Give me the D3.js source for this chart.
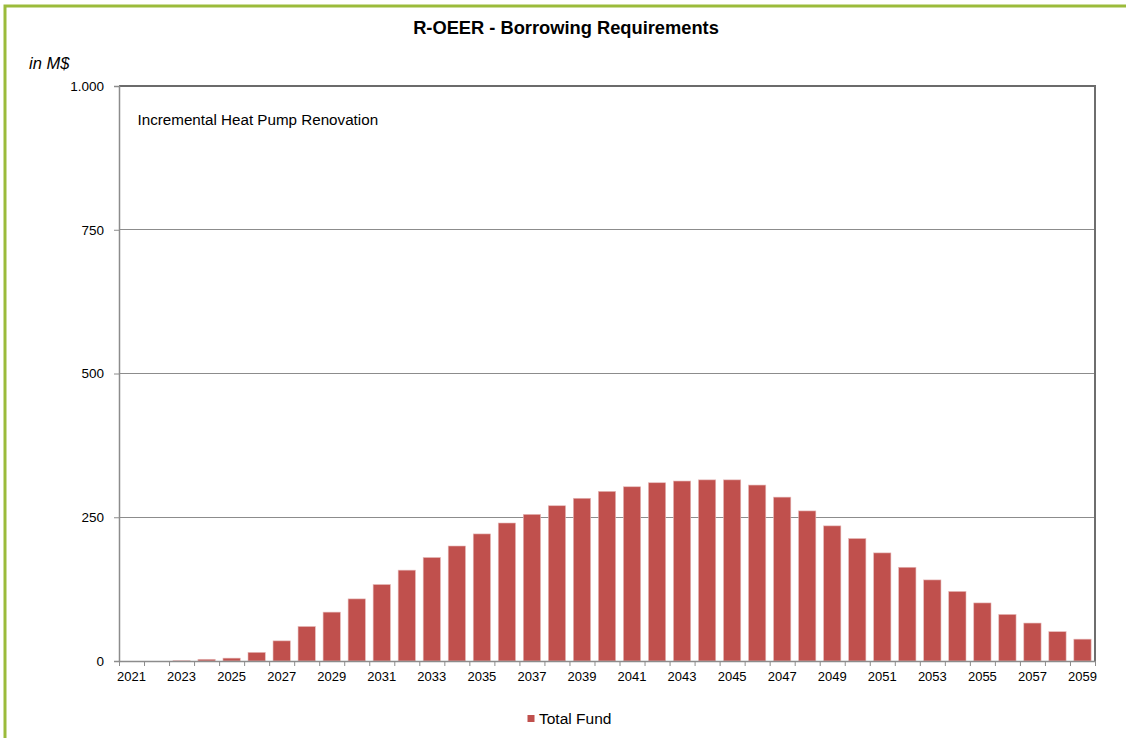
<!DOCTYPE html>
<html>
<head>
<meta charset="utf-8">
<script src="https://cdn.jsdelivr.net/npm/d3@7"></script>
<style>
  html, body { margin: 0; padding: 0; background: #fff; }
  svg { display: block; font-family: "Liberation Sans", Arial, sans-serif; }
</style>
</head>
<body>
<svg id="chart" width="1126" height="738"></svg>
<script>
const years = d3.range(2021, 2060).map(String);
const totalFund = [0, 0, 0.5, 3, 5, 15, 35, 60, 85, 108, 133, 158, 180, 200, 221, 240, 255, 270, 283, 295, 303, 310, 313, 315, 315, 306, 285, 261, 235, 213, 188, 163, 141, 121, 101, 81, 66, 51, 38];
const yTicks = [0, 250, 500, 750, 1000];
const titleText = "R-OEER - Borrowing Requirements";
const unitText = "in M$";
const noteText = "Incremental Heat Pump Renovation";
const seriesName = "Total Fund";

(function () {
const svg = d3.select("#chart");
const W = 1126, H = 738;
const pL = 119, pR = 1095, pT = 86, pB = 661;
const barColor = "#C0504D";

// green outer frame
svg.append("path")
  .attr("d", `M5,${H + 5} L5,6 L${W + 5},6`)
  .attr("fill", "none")
  .attr("stroke", "#9BBB3B")
  .attr("stroke-width", 3);

const x = d3.scaleBand().domain(years).range([pL, pR]).paddingInner(0.31).paddingOuter(0.155);
const xb = d3.scaleLinear().domain([0, years.length]).range([pL, pR]);
const y = d3.scaleLinear().domain([0, 1000]).range([pB, pT]);

const loc = d3.formatLocale({ decimal: ",", thousands: ".", grouping: [3], currency: ["", "$"] });
const fmt = loc.format(",");

// gridlines
svg.append("g").selectAll("line").data(yTicks.filter(d => d > 0 && d < 1000)).join("line")
  .attr("x1", pL).attr("x2", pR)
  .attr("y1", d => y(d)).attr("y2", d => y(d))
  .attr("stroke", "#8c8c8c").attr("stroke-width", 1).attr("shape-rendering", "crispEdges");

// plot frame top & right
svg.append("line").attr("x1", pL).attr("x2", pR + 1).attr("y1", pT).attr("y2", pT)
  .attr("stroke", "#3a3a3a").attr("stroke-width", 1.5);
svg.append("line").attr("x1", pR).attr("x2", pR).attr("y1", pT).attr("y2", pB)
  .attr("stroke", "#6e6e6e").attr("stroke-width", 2);

// bars
svg.append("g").selectAll("rect").data(years).join("rect")
  .attr("x", d => x(d))
  .attr("width", x.bandwidth())
  .attr("y", (d, i) => y(totalFund[i]))
  .attr("height", (d, i) => pB - y(totalFund[i]))
  .attr("fill", barColor)
  .attr("stroke", "#e6b9b8")
  .attr("stroke-width", 0.6);

// y axis
const yAxis = svg.append("g").attr("transform", `translate(${pL},0)`)
  .call(d3.axisLeft(y).tickValues(yTicks).tickFormat(fmt).tickSize(5).tickPadding(10));
yAxis.select(".domain").attr("stroke", "#8c8c8c").attr("stroke-width", 1.5);
yAxis.selectAll(".tick line").attr("stroke", "#8c8c8c");
yAxis.selectAll("text").attr("font-size", 13.5).attr("fill", "#000").attr("font-family", "Liberation Sans, Arial, sans-serif");

// x axis ticks at band boundaries
const xTickAxis = svg.append("g").attr("transform", `translate(0,${pB})`)
  .call(d3.axisBottom(xb).tickValues(d3.range(years.length + 1)).tickFormat("").tickSize(5).tickSizeOuter(0));
xTickAxis.select(".domain").attr("stroke", "#8c8c8c").attr("stroke-width", 1.5);
xTickAxis.selectAll(".tick line").attr("stroke", "#8c8c8c");

// x axis labels
const xLab = svg.append("g").attr("transform", `translate(0,${pB})`)
  .call(d3.axisBottom(x).tickValues(years.filter((d, i) => i % 2 === 0)).tickSize(0).tickPadding(11));
xLab.select(".domain").remove();
xLab.selectAll("text").attr("font-size", 13).attr("fill", "#000").attr("font-family", "Liberation Sans, Arial, sans-serif");

// title
svg.append("text").attr("x", 566).attr("y", 34).attr("text-anchor", "middle")
  .attr("font-size", 18.3).attr("font-weight", "bold").attr("fill", "#000").text(titleText);

// unit
svg.append("text").attr("x", 29).attr("y", 69)
  .attr("font-size", 16.5).attr("font-style", "italic").attr("fill", "#000").text(unitText);

// note
svg.append("text").attr("x", 137.5).attr("y", 124.5)
  .attr("font-size", 15.2).attr("fill", "#000").text(noteText);

// legend
const lg = svg.append("g");
lg.append("rect").attr("x", 527.5).attr("y", 715).attr("width", 7).attr("height", 7).attr("fill", barColor);
lg.append("text").attr("x", 539).attr("y", 724).attr("font-size", 15.5).attr("fill", "#000").text(seriesName);
})();
</script>
</body>
</html>
